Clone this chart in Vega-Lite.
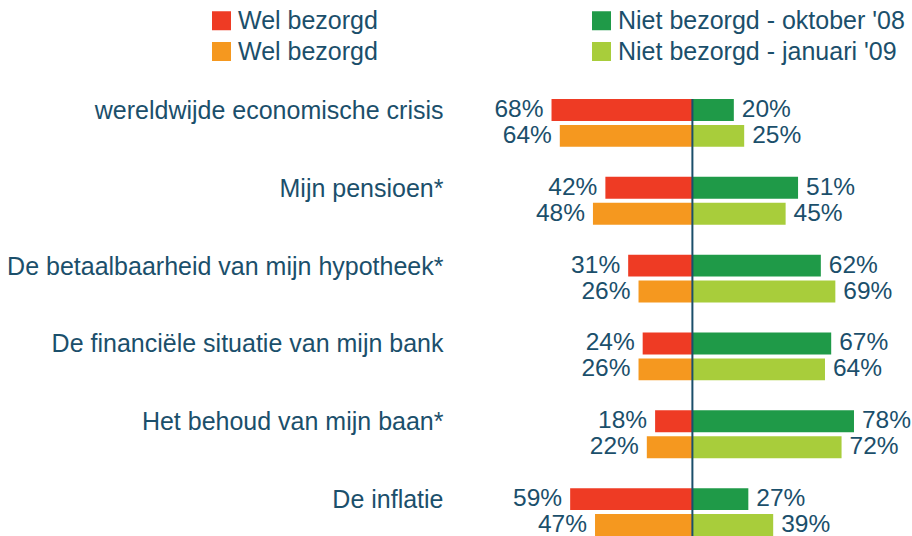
{
  "$schema": "https://vega.github.io/schema/vega-lite/v6.json",
  "width": 462,
  "height": 437,
  "autosize": {"type": "none"},
  "padding": {"left": 450, "top": 99, "right": 0, "bottom": 0},
  "background": "white",
  "config": {"view": {"stroke": null}, "font": "Liberation Sans"},
  "data": {
    "values": [
      {"question": "wereldwijde economische crisis", "period": "okt", "side": "wel", "series": "wel_okt", "value": 68},
      {"question": "wereldwijde economische crisis", "period": "okt", "side": "niet", "series": "niet_okt", "value": 20},
      {"question": "wereldwijde economische crisis", "period": "jan", "side": "wel", "series": "wel_jan", "value": 64},
      {"question": "wereldwijde economische crisis", "period": "jan", "side": "niet", "series": "niet_jan", "value": 25},
      {"question": "Mijn pensioen*", "period": "okt", "side": "wel", "series": "wel_okt", "value": 42},
      {"question": "Mijn pensioen*", "period": "okt", "side": "niet", "series": "niet_okt", "value": 51},
      {"question": "Mijn pensioen*", "period": "jan", "side": "wel", "series": "wel_jan", "value": 48},
      {"question": "Mijn pensioen*", "period": "jan", "side": "niet", "series": "niet_jan", "value": 45},
      {"question": "De betaalbaarheid van mijn hypotheek*", "period": "okt", "side": "wel", "series": "wel_okt", "value": 31},
      {"question": "De betaalbaarheid van mijn hypotheek*", "period": "okt", "side": "niet", "series": "niet_okt", "value": 62},
      {"question": "De betaalbaarheid van mijn hypotheek*", "period": "jan", "side": "wel", "series": "wel_jan", "value": 26},
      {"question": "De betaalbaarheid van mijn hypotheek*", "period": "jan", "side": "niet", "series": "niet_jan", "value": 69},
      {"question": "De financiële situatie van mijn bank\u00a0", "period": "okt", "side": "wel", "series": "wel_okt", "value": 24},
      {"question": "De financiële situatie van mijn bank\u00a0", "period": "okt", "side": "niet", "series": "niet_okt", "value": 67},
      {"question": "De financiële situatie van mijn bank\u00a0", "period": "jan", "side": "wel", "series": "wel_jan", "value": 26},
      {"question": "De financiële situatie van mijn bank\u00a0", "period": "jan", "side": "niet", "series": "niet_jan", "value": 64},
      {"question": "Het behoud van mijn baan*", "period": "okt", "side": "wel", "series": "wel_okt", "value": 18},
      {"question": "Het behoud van mijn baan*", "period": "okt", "side": "niet", "series": "niet_okt", "value": 78},
      {"question": "Het behoud van mijn baan*", "period": "jan", "side": "wel", "series": "wel_jan", "value": 22},
      {"question": "Het behoud van mijn baan*", "period": "jan", "side": "niet", "series": "niet_jan", "value": 72},
      {"question": "De inflatie", "period": "okt", "side": "wel", "series": "wel_okt", "value": 59},
      {"question": "De inflatie", "period": "okt", "side": "niet", "series": "niet_okt", "value": 27},
      {"question": "De inflatie", "period": "jan", "side": "wel", "series": "wel_jan", "value": 47},
      {"question": "De inflatie", "period": "jan", "side": "niet", "series": "niet_jan", "value": 39}
    ]
  },
  "transform": [
    {"calculate": "datum.side == 'wel' ? -datum.value : datum.value", "as": "x"},
    {"calculate": "datum.value + '%'", "as": "label"}
  ],
  "layer": [
    {
      "mark": {"type": "bar"},
      "encoding": {
        "y": {
          "field": "question", "type": "nominal", "title": null,
          "sort": ["wereldwijde economische crisis", "Mijn pensioen*", "De betaalbaarheid van mijn hypotheek*", "De financiële situatie van mijn bank\u00a0", "Het behoud van mijn baan*", "De inflatie"],
          "scale": {"paddingInner": 0.385, "paddingOuter": 0},
          "axis": {"domain": false, "ticks": false, "labelFontSize": 25, "labelColor": "#1b4f6b", "labelPadding": 7, "labelOffset": -12, "labelLimit": 0, "labelBaseline": "middle"}
        },
        "yOffset": {"field": "period", "type": "nominal", "sort": ["okt", "jan"], "scale": {"paddingInner": 0.154, "paddingOuter": 0}},
        "x": {"field": "x", "type": "quantitative", "scale": {"domain": [-117, 106], "nice": false, "zero": false}, "axis": null},
        "color": {
          "field": "series", "type": "nominal",
          "scale": {"domain": ["wel_okt", "niet_okt", "wel_jan", "niet_jan"], "range": ["#ee3b24", "#1f9a48", "#f5981f", "#a8cd3b"]},
          "legend": {
            "orient": "none", "legendX": -241, "legendY": -91, "direction": "horizontal", "columns": 2,
            "columnPadding": 211, "rowPadding": 5, "title": null,
            "symbolType": "square", "symbolSize": 361, "symbolStrokeWidth": 0, "symbolOpacity": 1,
            "labelFontSize": 25, "labelColor": "#1b4f6b", "labelOffset": 4, "labelLimit": 0,
            "labelExpr": "datum.label == 'wel_okt' || datum.label == 'wel_jan' ? 'Wel bezorgd' : datum.label == 'niet_okt' ? 'Niet bezorgd - oktober \\'08' : 'Niet bezorgd - januari \\'09'"
          }
        }
      }
    },
    {
      "transform": [{"filter": "datum.side == 'wel'"}],
      "mark": {"type": "text", "align": "right", "baseline": "middle", "dx": -8, "fontSize": 24.5, "color": "#1b4f6b"},
      "encoding": {
        "y": {"field": "question", "type": "nominal", "sort": ["wereldwijde economische crisis", "Mijn pensioen*", "De betaalbaarheid van mijn hypotheek*", "De financiële situatie van mijn bank\u00a0", "Het behoud van mijn baan*", "De inflatie"]},
        "yOffset": {"field": "period", "type": "nominal", "sort": ["okt", "jan"]},
        "x": {"field": "x", "type": "quantitative"},
        "text": {"field": "label"}
      }
    },
    {
      "transform": [{"filter": "datum.side == 'niet'"}],
      "mark": {"type": "text", "align": "left", "baseline": "middle", "dx": 8, "fontSize": 24.5, "color": "#1b4f6b"},
      "encoding": {
        "y": {"field": "question", "type": "nominal", "sort": ["wereldwijde economische crisis", "Mijn pensioen*", "De betaalbaarheid van mijn hypotheek*", "De financiële situatie van mijn bank\u00a0", "Het behoud van mijn baan*", "De inflatie"]},
        "yOffset": {"field": "period", "type": "nominal", "sort": ["okt", "jan"]},
        "x": {"field": "x", "type": "quantitative"},
        "text": {"field": "label"}
      }
    },
    {
      "data": {"values": [{"zero": 0}]},
      "mark": {"type": "rule", "color": "#1b4f6b", "strokeWidth": 2},
      "encoding": {"x": {"field": "zero", "type": "quantitative"}}
    }
  ]
}
